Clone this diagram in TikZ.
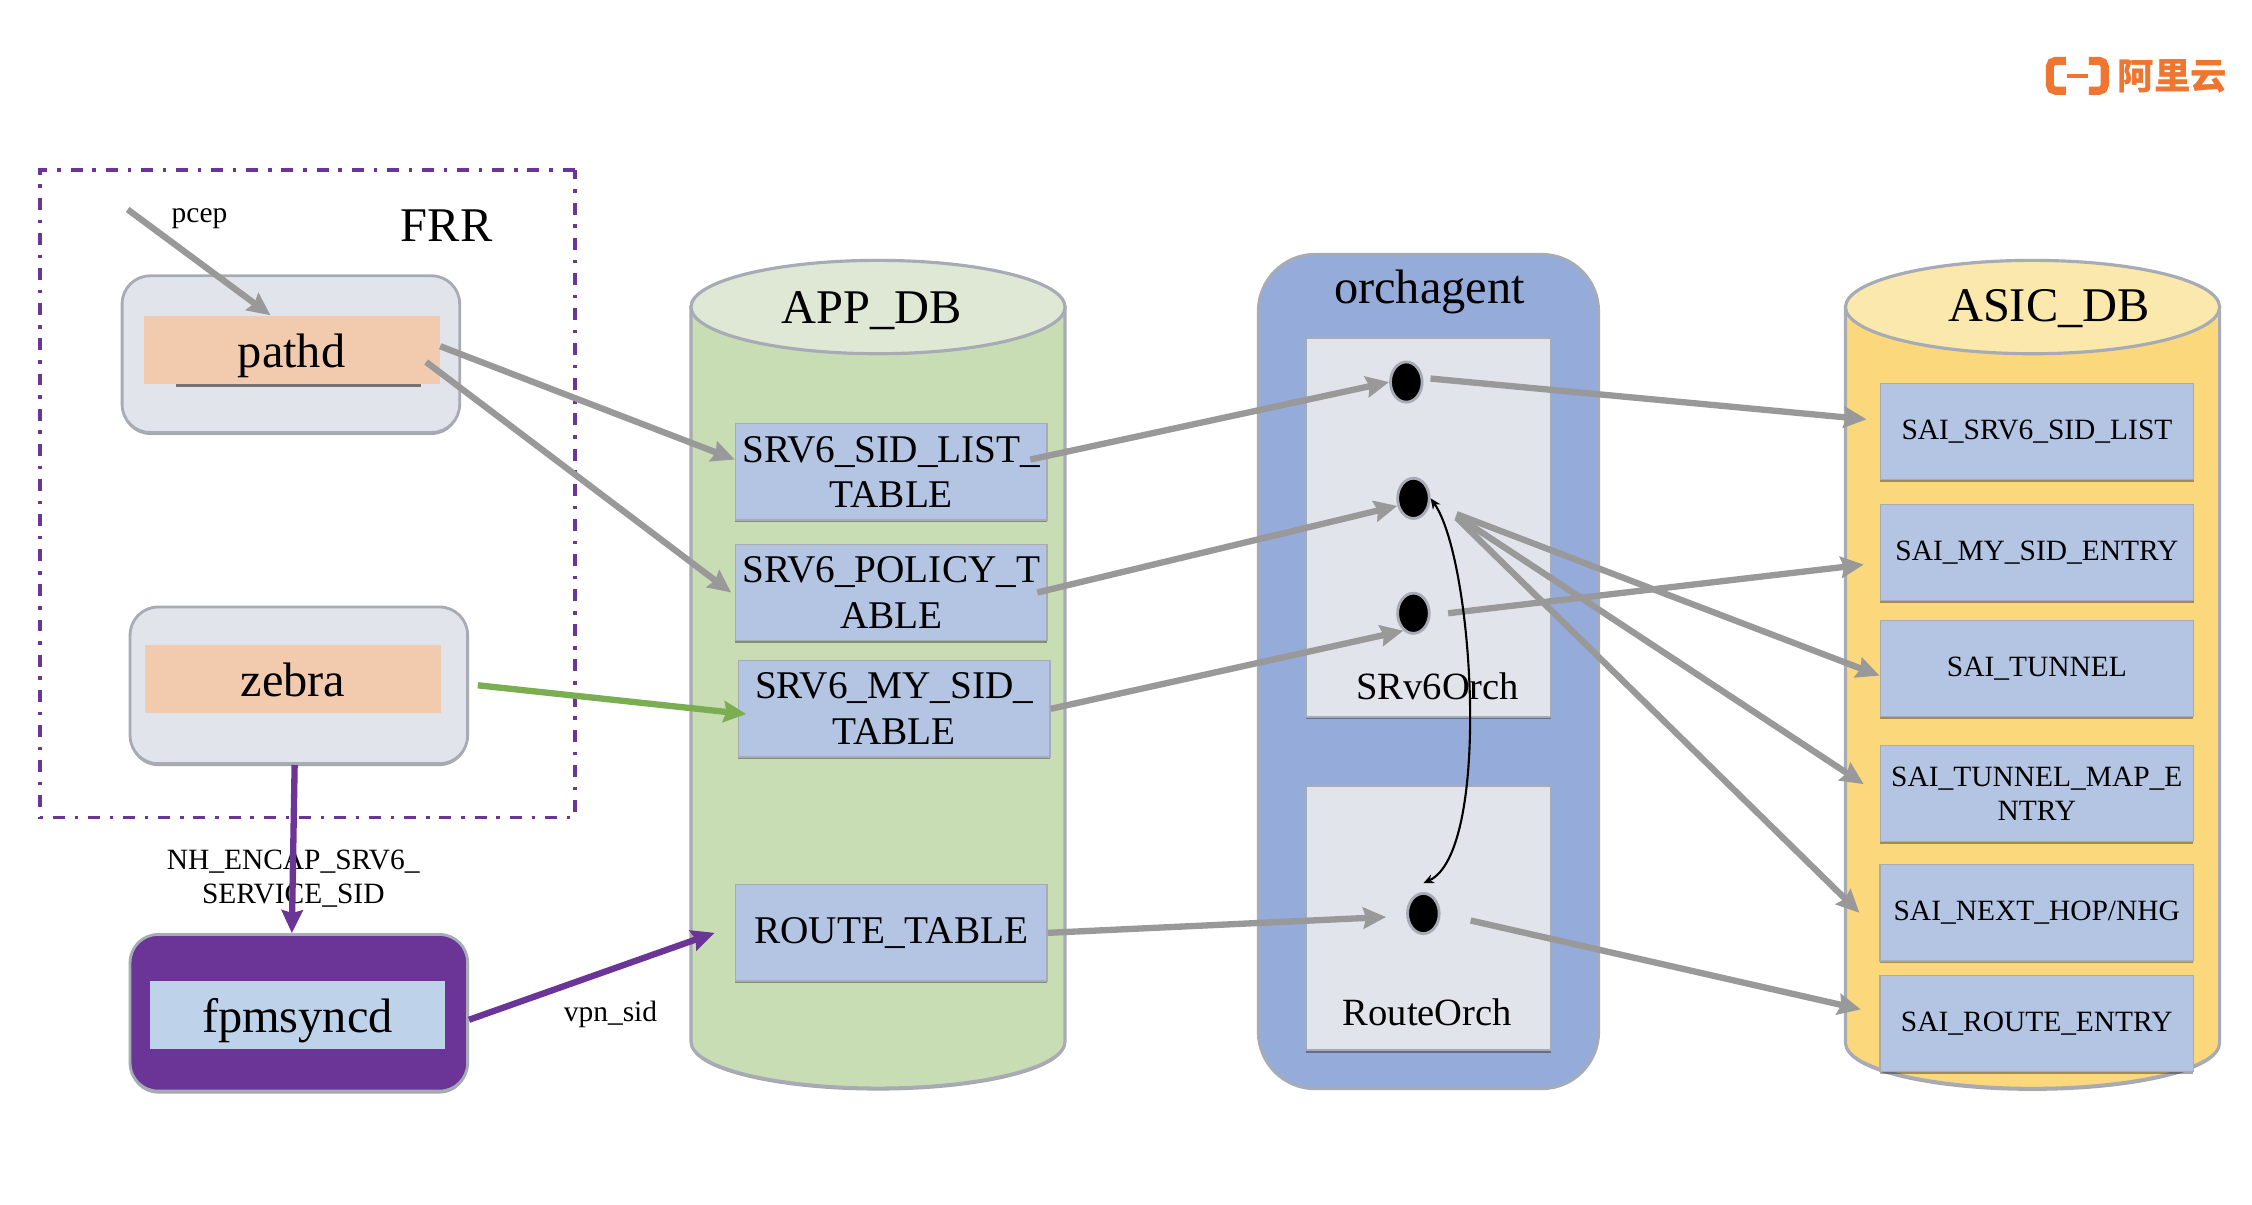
\documentclass[tikz,border=0pt]{standalone}
\usepackage{fontspec}
\setmainfont{Liberation Serif}
\newfontfamily\cjk{Noto Sans CJK SC}
\usepackage{xcolor}
\usetikzlibrary{shapes.geometric, arrows.meta, shadows}
\definecolor{edge}{HTML}{A6ABB5}
\definecolor{flow}{HTML}{999999}
\definecolor{paleblue}{HTML}{E1E5EB}
\definecolor{peach}{HTML}{F2CBAF}
\definecolor{fpmpurple}{HTML}{6A3596}
\definecolor{fpmblue}{HTML}{BED3EA}
\definecolor{tableblue}{HTML}{B4C5E4}
\definecolor{orchblue}{HTML}{95ABD9}
\definecolor{appbody}{HTML}{C9DDB5}
\definecolor{apptop}{HTML}{DEE8D4}
\definecolor{asicbody}{HTML}{FAD87B}
\definecolor{asictop}{HTML}{FBE8AC}
\definecolor{zebragreen}{HTML}{7BAE52}
\definecolor{aliorange}{HTML}{EF7631}
\tikzset{base shadow/.style={drop shadow={shadow xshift=0pt, shadow yshift=-0.7pt, opacity=0.35, fill=black}}}
\tikzstyle{bigfont} = [font=\fontsize{13.8}{16}\selectfont]
\tikzstyle{midfont} = [font=\fontsize{11}{13}\selectfont]
\tikzstyle{smallfont} = [font=\fontsize{8.4}{9.8}\selectfont, align=center]
\tikzstyle{daemonbox} = [rectangle, rounded corners=0.28cm, minimum width=3.384cm, minimum height=1.57cm, inner sep=0pt, line width=0.8pt, draw=edge, fill=paleblue, base shadow]
\tikzstyle{daemon} = [bigfont, rectangle, minimum width=2.966cm, minimum height=0.677cm, inner sep=0pt, text height=10pt, text depth=0pt, fill=peach]
\tikzstyle{apptable} = [font=\fontsize{11.2}{13}\selectfont, rectangle, minimum width=3.125cm, minimum height=0.965cm, inner sep=0pt, align=center, draw=edge, fill=tableblue, base shadow]
\tikzstyle{saitable} = [smallfont, rectangle, minimum width=3.14cm, minimum height=0.965cm, inner sep=0pt, draw=edge, fill=tableblue, base shadow]
\tikzstyle{dbbody} = [line width=0.9pt, draw=edge, base shadow]
\tikzstyle{dbtop} = [ellipse, minimum width=3.75cm, minimum height=0.936cm, inner sep=0pt, line width=0.9pt, draw=edge]
\tikzstyle{orchbox} = [rectangle, minimum width=2.462cm, inner sep=0pt, line width=0.6pt, draw=edge, fill=paleblue, base shadow]
\tikzstyle{dot} = [ellipse, minimum width=0.317cm, minimum height=0.403cm, inner sep=0pt, line width=0.8pt, draw=edge, fill=black]
\tikzstyle{arrow} = [line width=1.8pt, draw=flow, -{Stealth[length=6.5pt, width=6pt, inset=0.8pt]}]
\tikzstyle{purplearrow} = [arrow, draw=fpmpurple]
\tikzstyle{greenarrow} = [arrow, draw=zebragreen]
\tikzstyle{logo} = [line width=2.3pt, draw=aliorange, rounded corners=1.6pt]

\begin{document}
\begin{tikzpicture}[scale=0.9975, transform shape]
  \useasboundingbox (0,0) rectangle (22.576,-12.07);
  \node (frr) [rectangle, minimum width=5.36cm, minimum height=6.49cm, line width=1.1pt, draw=fpmpurple, dash pattern=on 3.4pt off 2.8pt on 1pt off 2.8pt] at (3.08,-4.95){};
  \node (frr label) [bigfont] at (4.478,-2.26){FRR};
  \node (pcep label) [smallfont] at (2.0,-2.196){pcep};
  \coordinate (pcep in) at (1.28,-2.1);

  \node (pathd box) [daemonbox] at (2.916,-3.55){};
  \node (pathd) [daemon] at (2.923,-3.506){pathd};
  \draw[line width=0.8pt, draw=black!55] ([xshift=-33pt, yshift=-0.4pt]pathd.south) -- ([xshift=37pt, yshift=-0.4pt]pathd.south);
  \node (zebra box) [daemonbox, below of = pathd box, xshift=0.08cm, yshift=-2.32cm]{};
  \node (zebra) [daemon, xshift=-0.058cm, yshift=0.065cm] at (zebra box){zebra};
  \node (fpm box) [daemonbox, fill=fpmpurple, below of = zebra box, yshift=-2.283cm]{};
  \node (fpmsyncd) [daemon, fill=fpmblue, xshift=-0.014cm, yshift=-0.02cm] at (fpm box){fpmsyncd};
  \node (encap label) [smallfont] at (2.94,-8.81){NH\_ENCAP\_SRV6\_\\SERVICE\_SID};
  \node (vpn label) [smallfont] at (6.12,-10.17){vpn\_sid};

  \draw[dbbody, fill=appbody] (6.927,-3.078) -- (6.927,-10.443) arc[start angle=180, end angle=360, x radius=1.875, y radius=0.465] -- (10.677,-3.078) -- cycle;
  \node (app top) [dbtop, fill=apptop] at (8.802,-3.078){};
  \node (app label) [bigfont] at (8.74,-3.117){APP\_DB};
  \node (sid list) [apptable] at (8.935,-4.73){SRV6\_SID\_LIST\_\\TABLE};
  \node (policy) [apptable, below of = sid list, yshift=-0.21cm]{SRV6\_POLICY\_T\\ABLE};
  \node (my sid) [apptable, below of = policy, xshift=0.03cm, yshift=-0.166cm]{SRV6\_MY\_SID\_\\TABLE};
  \node (route) [apptable, below of = my sid, xshift=-0.03cm, yshift=-1.246cm]{ROUTE\_TABLE};

  \node (orchagent) [rectangle, rounded corners=0.57cm, minimum width=3.413cm, minimum height=8.366cm, line width=0.8pt, draw=edge, fill=orchblue] at (14.32,-6.732){};
  \node (orch label) [bigfont] at (14.33,-2.93){orchagent};
  \node (srv6orch) [orchbox, minimum height=3.8cm] at (14.32,-5.285){};
  \node (routeorch) [orchbox, minimum height=2.65cm, below of = srv6orch, yshift=-2.917cm]{};
  \node (srv6 label) [midfont] at (14.414,-6.883){SRv6Orch};
  \node (route label) [midfont] at (14.31,-10.15){RouteOrch};
  \node (dot1) [dot] at (14.098,-3.83){};
  \node (dot2) [dot, below of = dot1, xshift=0.072cm, yshift=-0.166cm]{};
  \node (dot3) [dot, below of = dot2, yshift=-0.152cm]{};
  \node (dot4) [dot, below of = dot3, xshift=0.1cm, yshift=-2.01cm]{};

  \draw[dbbody, fill=asicbody] (18.501,-3.078) -- (18.501,-10.456) arc[start angle=180, end angle=360, x radius=1.875, y radius=0.455] -- (22.251,-3.078) -- cycle;
  \node (asic top) [dbtop, fill=asictop] at (20.376,-3.078){};
  \node (asic label) [bigfont] at (20.54,-3.09){ASIC\_DB};
  \node (sai sid) [saitable] at (20.42,-4.327){SAI\_SRV6\_SID\_LIST};
  \node (sai my) [saitable, below of = sai sid, yshift=-0.21cm]{SAI\_MY\_SID\_ENTRY};
  \node (sai tunnel) [saitable, below of = sai my, yshift=-0.166cm]{SAI\_TUNNEL};
  \node (sai map) [saitable, below of = sai tunnel, yshift=-0.253cm]{SAI\_TUNNEL\_MAP\_E\\NTRY};
  \node (sai next) [saitable, below of = sai map, yshift=-0.195cm]{SAI\_NEXT\_HOP/NHG};
  \node (sai route) [saitable, below of = sai next, yshift=-0.109cm]{SAI\_ROUTE\_ENTRY};

  \node (logo text) [font=\cjk\bfseries\fontsize{10.4}{12}\selectfont, text=aliorange, inner sep=0pt] at (21.78,-0.765){阿里云};
  \draw[logo] (20.71,-0.61) -- (20.55,-0.61) -- (20.55,-0.91) -- (20.71,-0.91);
  \draw[logo] (20.94,-0.61) -- (21.10,-0.61) -- (21.10,-0.91) -- (20.94,-0.91);
  \draw[draw=aliorange, line width=1.1pt] (20.72,-0.76) -- (20.93,-0.76);

  \draw[arrow](pcep in) -- ([xshift=-6pt]pathd.north);
  \draw[arrow]([yshift=1pt]pathd.east) -- ([yshift=3.5pt]sid list.west);
  \draw[arrow]([xshift=-4pt, yshift=-3.5pt]pathd.east) -- ([xshift=-1pt]policy.west);
  \draw[greenarrow]([xshift=2.5pt]zebra box.east) -- ([xshift=2.5pt, yshift=-1.5pt]my sid.west);
  \draw[purplearrow]([xshift=-1.2pt]zebra box.south) -- ([xshift=-2pt]fpm box.north);
  \draw[purplearrow]([yshift=-2pt]fpm box.east) -- ([xshift=-5.7pt]route.west);
  \draw[arrow]([xshift=-5pt, yshift=3.5pt]sid list.east) -- ([yshift=0pt]dot1.west);
  \draw[arrow]([xshift=-3pt]policy.east) -- (dot2.205);
  \draw[arrow](my sid.east) -- (dot3.240);
  \draw[arrow](route.east) -- ([xshift=-5.7pt, yshift=-1pt]dot4.west);
  \draw[arrow]([xshift=2pt, yshift=1pt]dot1.east) -- ([xshift=-3.7pt, yshift=3.5pt]sai sid.west);
  \draw[arrow]([xshift=5pt]dot3.east) -- ([xshift=-4.5pt, yshift=-3.5pt]sai my.west);
  \draw[arrow]([xshift=7.4pt, yshift=-4.5pt]dot2.east) -- ([yshift=-2pt]sai tunnel.west);
  \draw[arrow]([xshift=7.4pt, yshift=-5pt]dot2.east) -- ([xshift=-4.5pt, yshift=2.7pt]sai map.west);
  \draw[arrow]([xshift=7.4pt, yshift=-5.5pt]dot2.east) -- ([xshift=-5.7pt]sai next.west);
  \draw[arrow]([xshift=8.6pt, yshift=-2pt]dot4.east) -- ([xshift=-5.3pt, yshift=4pt]sai route.west);
  \draw[line width=0.6pt, {Stealth[length=3pt, width=2.6pt]}-{Stealth[length=3pt, width=2.6pt]}] (dot2.east) to[out=-55, in=25, looseness=0.5] ([yshift=2.5pt]dot4.north);
\end{tikzpicture}
\end{document}
